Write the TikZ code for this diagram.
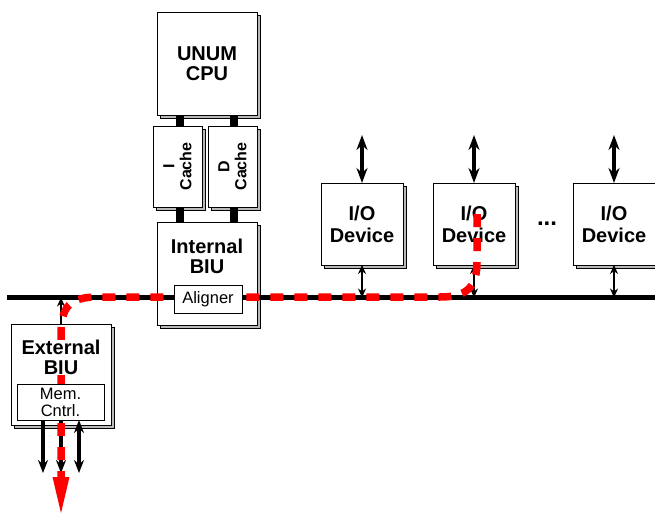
\documentclass[tikz,border=0pt]{standalone}
\usepackage{fontspec}
\setmainfont{Liberation Sans}
\usetikzlibrary{arrows.meta,shadows}
\tikzset{mtip/.tip={Stealth[length=13pt,width=10pt]}}
\begin{document}
\begin{tikzpicture}[x=1pt,y=-1pt,
  box/.style={draw=black, line width=0.7pt, fill=white, inner sep=0pt, outer sep=0pt,
    general shadow={fill=gray!55, draw=black, line width=0.5pt, shadow xshift=3pt, shadow yshift=-3pt}},
  plainbox/.style={draw=black, line width=0.7pt, fill=white, inner sep=0pt, outer sep=0pt},
  bigtxt/.style={font=\bfseries\fontsize{20}{20}\selectfont, align=center},
  iotxt/.style={font=\bfseries\fontsize{20}{22}\selectfont, align=center},
  cachetxt/.style={font=\bfseries\fontsize{16}{17}\selectfont, align=center, rotate=90},
  smalltxt/.style={font=\fontsize{16.5}{17}\selectfont, align=center},
  bar/.style={line width=8pt},
  busline/.style={line width=5pt},
  ioarrow/.style={line width=4pt, {Stealth[length=15pt,width=11pt]}-{Stealth[length=15pt,width=11pt]}},
  busarrow/.style={line width=2.8pt, {Stealth[length=9pt,width=8pt]}-{Stealth[length=9pt,width=8pt]}},
  memarrow/.style={line width=4pt},
  redpath/.style={draw=red, line width=7.5pt, dash pattern=on 13pt off 11pt},
]
\clip (0,0) rectangle (655,513);
\useasboundingbox (0,0) rectangle (655,513);

% boxes
\node[box, minimum width=100, minimum height=103, bigtxt] (cpu) at (207,63.5) {UNUM\\CPU};
\node[box, minimum width=49, minimum height=81] (icache) at (177.5,166.5) {};
\node[box, minimum width=49, minimum height=81] (dcache) at (232.5,166.5) {};
\node[cachetxt] (ictxt) at (icache) {I\\Cache};
\node[cachetxt] (dctxt) at (dcache) {D\\Cache};
\node[box, minimum width=100, minimum height=103] (ibiu) at (207,273.5) {};
\node[bigtxt] (ibiutxt) at (207,256) {Internal\\BIU};

\node[box, minimum width=82, minimum height=82, iotxt] (io1) at (362,224) {I/O\\Device};
\node[box, minimum width=82, minimum height=82, iotxt] (io2) at (474,224) {I/O\\Device};
\node[box, minimum width=82, minimum height=82, iotxt] (io3) at (614,224) {I/O\\Device};
\node[font=\bfseries\fontsize{24}{24}\selectfont] (dots) at (547,224) {...};

\node[box, minimum width=100, minimum height=101] (ebiu) at (61,374.5) {};

% bars between CPU, caches and BIU
\draw[bar] ([xshift=2.5pt]icache.north) -- ([xshift=2.5pt]icache.north |- cpu.south);
\draw[bar] ([xshift=1.5pt]dcache.north) -- ([xshift=1.5pt]dcache.north |- cpu.south);
\draw[bar] ([xshift=2.5pt]icache.south) -- ([xshift=2.5pt]icache.south |- ibiu.north);
\draw[bar] ([xshift=1.5pt]dcache.south) -- ([xshift=1.5pt]dcache.south |- ibiu.north);

% bus
\coordinate (busL) at (7,297.5);
\coordinate (busR) at (660,297.5);
\draw[busline] (busL) -- (busR);

% I/O arrows
\coordinate (t1) at (362,135);
\coordinate (t2) at (474,135);
\coordinate (t3) at (614,135);
\draw[ioarrow] (t1) -- (io1.north);
\draw[ioarrow] (t2) -- (io2.north);
\draw[ioarrow] (t3) -- (io3.north);
\draw[busarrow] (io1.south) -- (io1.south |- busL);
\draw[busarrow] (io2.south) -- (io2.south |- busL);
\draw[busarrow] (io3.south) -- (io3.south |- busL);

% external BIU to bus
\draw[line width=2.5pt, -{Stealth[length=9pt,width=8pt]}] (ebiu.north) -- (ebiu.north |- busL);

% memory arrows
\coordinate (m1) at (43,473);
\coordinate (m2) at (61,473);
\coordinate (m3) at (79,473);
\coordinate (mt) at (61,420);
\draw[memarrow, -mtip] (mt -| m1) -- (m1);
\draw[memarrow, -mtip] (mt -| m2) -- (m2);
\draw[memarrow, mtip-mtip] (mt -| m3) -- (m3);

% red data path
\coordinate (r0) at (477,214);
\coordinate (r1) at (477,262);
\coordinate (r2) at (440,297);
\coordinate (r3) at (98,297);
\coordinate (r4) at (61,335);
\coordinate (r5) at (61,477);
\coordinate (rtip) at (61,513);
\draw[redpath] (r0) -- (r1) .. controls (477,288) and (466,297) .. (r2) -- (r3) .. controls (70,297) and (61,306) .. (r4) -- (r5);
\fill[red] (rtip) -- ([xshift=-8.5pt]r5) -- ([xshift=8.5pt]r5) -- cycle;

% boxes on top
\node[plainbox, minimum width=68, minimum height=28, smalltxt] (aligner) at (208,299) {Aligner};
\node[bigtxt, fill=white, inner sep=0.5pt] (ebiutxt) at (61,357.5) {External\\BIU};
\node[plainbox, minimum width=87, minimum height=36, smalltxt] (memc) at (60.5,402) {Mem.\\Cntrl.};
\end{tikzpicture}
\end{document}
